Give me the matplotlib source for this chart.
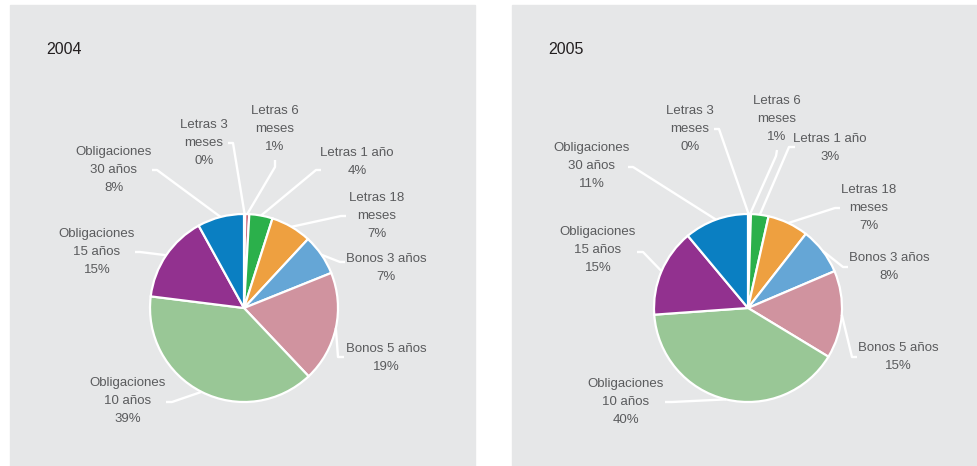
import matplotlib.pyplot as plt
import numpy as np
from matplotlib.patches import Rectangle

plt.rcParams['font.family'] = ['Liberation Sans', 'DejaVu Sans']

# datos
categorias = ['Letras 3\nmeses', 'Letras 6\nmeses', 'Letras 1 año', 'Letras 18\nmeses',
              'Bonos 3 años', 'Bonos 5 años', 'Obligaciones\n10 años',
              'Obligaciones\n15 años', 'Obligaciones\n30 años']
valores_2004 = [0.2, 0.7, 4, 7, 7, 19, 39, 15, 8]
valores_2005 = [0.2, 0.3, 3, 7, 8, 15, 40, 15, 11]
pct_2004 = ['0%', '1%', '4%', '7%', '7%', '19%', '39%', '15%', '8%']
pct_2005 = ['0%', '1%', '3%', '7%', '8%', '15%', '40%', '15%', '11%']
colores = ['#f2f2f2', '#cc6d80', '#2bb04b', '#eea040', '#65a6d6',
           '#d0939f', '#99c796', '#92318f', '#0a7fc2']

W, H = 977, 466
GRIS = '#e6e7e8'
TXT = '#5a5b5d'

# posiciones de etiquetas (texto, codo, final de la linea) en pixeles
lay_2004 = [
    ((204, 143), (233, 143), (228, 143)),
    ((275, 129), (275, 167), (275, 160)),
    ((357, 162), (316, 170), (321, 170)),
    ((377, 216), (341, 216), (346, 216)),
    ((386, 268), (340, 262), (345, 262)),
    ((386, 358), (338, 357), (344, 357)),
    ((128, 401), (172, 402), (166, 402)),
    ((97, 252), (140, 252), (135, 252)),
    ((114, 170), (157, 170), (152, 170)),
]
lay_2005 = [
    ((690, 129), (719, 129), (714, 129)),
    ((777, 119), (776, 156), (777, 150)),
    ((830, 148), (789, 147), (795, 147)),
    ((869, 208), (835, 208), (840, 208)),
    ((889, 267), (843, 267), (848, 267)),
    ((898, 357), (852, 357), (857, 357)),
    ((626, 402), (672, 402), (665, 402)),
    ((598, 250), (643, 252), (637, 252)),
    ((592, 166), (633, 167), (628, 167)),
]

fig = plt.figure(figsize=(W / 100, H / 100), dpi=100)
ax = fig.add_axes([0, 0, 1, 1])


def panel(x0, x1, anio, valores, pcts, lay, cx, cy, r=94):
    ax.add_patch(Rectangle((x0, 5), x1 - x0, H - 5, color=GRIS, zorder=0))
    ax.text(x0 + 36, 50, anio, fontsize=11.5, color='#231f20', va='center', ha='left')
    wedges, _ = ax.pie(valores, colors=colores, startangle=-90, counterclock=True,
                       center=(cx, cy), radius=r, frame=True,
                       wedgeprops=dict(edgecolor='white', linewidth=1.6))
    for w, cat, p, (tpos, codo, fin) in zip(wedges, categorias, pcts, lay):
        ang = np.deg2rad((w.theta1 + w.theta2) / 2)
        sx, sy = cx + r * np.cos(ang), cy + r * np.sin(ang)
        ax.plot([sx, codo[0], fin[0]], [sy, codo[1], fin[1]], color='white',
                lw=1.7, zorder=1, solid_capstyle='butt')
        ax.text(tpos[0], tpos[1], cat + '\n' + p, ha='center', va='center',
                multialignment='center', fontsize=9.5, color=TXT, linespacing=1.7)


panel(10, 475, '2004', valores_2004, pct_2004, lay_2004, 244, 308)
panel(512, 977, '2005', valores_2005, pct_2005, lay_2005, 748, 308)

ax.set_xlim(0, W)
ax.set_ylim(H, 0)
ax.set_aspect('auto')
ax.axis('off')

plt.savefig('out.png', dpi=100, facecolor='white')
